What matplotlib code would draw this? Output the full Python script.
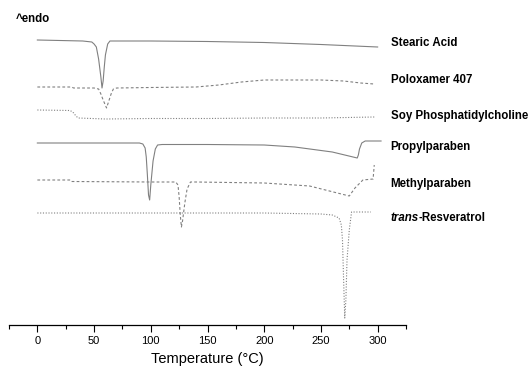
import matplotlib
matplotlib.use("Agg")
import matplotlib.pyplot as plt
import numpy as np

plt.rcParams['font.family'] = ['Liberation Sans', 'DejaVu Sans']

# DSC curves, temperature (C) vs stacked heat flow (arbitrary, endo up)
stearic_T = [0, 20, 40, 48, 50, 52, 54, 56, 57, 58, 59, 60, 62, 64, 70, 100, 150, 200, 250, 300]
stearic_y = [285, 284.5, 284, 283, 281, 278, 266, 248, 237, 244, 258, 270, 281, 284, 284, 284, 283.5, 282.5, 280.5, 278]

polox_T = [0, 30, 32, 50, 54, 56, 58, 61, 63, 65, 67, 70, 100, 140, 160, 180, 200, 250, 270, 285, 297]
polox_y = [238, 238, 237, 237, 236, 231, 225, 217, 224, 231, 236, 237, 237.5, 238, 240, 243, 245, 245, 244, 242, 241]

soy_T = [0, 29, 32, 34, 36, 60, 100, 150, 200, 250, 297]
soy_y = [215, 214.5, 212, 209, 207, 206, 206.5, 206.5, 207, 207, 208]

propyl_T = [0, 50, 90, 93, 95, 96, 97, 98, 99, 100, 102, 104, 106, 110, 150, 200, 227, 260, 282, 283, 284, 286, 289, 303]
propyl_y = [182, 182, 182, 181, 177, 168, 150, 130, 125, 140, 164, 176, 180, 180.5, 180.5, 180, 178, 173, 167, 170, 176, 182, 184, 184]

methyl_T = [0, 29, 30, 100, 122, 124, 125, 126, 127, 128, 130, 132, 135, 140, 200, 240, 275, 280, 287, 296, 297]
methyl_y = [145, 145, 143.5, 143, 143, 140, 128, 110, 98, 104, 122, 136, 143, 143, 142, 139, 129, 137, 145, 146, 160]

resv_T = [0, 100, 200, 250, 260, 266, 268, 269, 270, 271, 272, 273, 275, 277, 290, 294]
resv_y = [112, 112, 112, 111, 110, 107, 100, 85, 45, 7, 25, 65, 95, 113, 113, 113]

labels = ["Stearic Acid", "Poloxamer 407", "Soy Phosphatidylcholine",
          "Propylparaben", "Methylparaben"]
label_y = [282, 245, 209, 178, 141]
resv_label_y = 107

fig = plt.figure(figsize=(5.28, 3.71), dpi=100)
ax = fig.add_axes([9/528, 46/371, 397/528, 320/371])

col = '#808080'
ax.plot(stearic_T, stearic_y, color=col, lw=0.8, ls='-')
ax.plot(polox_T, polox_y, color=col, lw=0.8, ls=(0, (2.5, 2)))
ax.plot(soy_T, soy_y, color=col, lw=0.8, ls=(0, (1, 1.5)))
ax.plot(propyl_T, propyl_y, color=col, lw=0.8, ls='-')
ax.plot(methyl_T, methyl_y, color=col, lw=0.8, ls=(0, (2.5, 2)))
ax.plot(resv_T, resv_y, color=col, lw=0.8, ls=(0, (1, 1.5)))

ax.set_xlim(-25, 325)
ax.set_ylim(0, 320)

for lab, yy in zip(labels, label_y):
    ax.text(311.5, yy, lab, fontsize=8.3, fontweight='bold', va='center', ha='left', clip_on=False)
t1 = ax.text(311.5, resv_label_y, "trans", fontsize=8.3, fontweight='bold', style='italic',
             va='center', ha='left', clip_on=False)
ax.annotate("-Resveratrol", xy=(1, 0.5), xycoords=t1, fontsize=8.3, fontweight='bold',
            va='center', ha='left', annotation_clip=False)

ax.text(-19.4, 306, "^endo", fontsize=8.3, fontweight='bold', va='center', ha='left')

for s in ['left', 'right', 'top']:
    ax.spines[s].set_visible(False)
ax.spines['bottom'].set_linewidth(0.9)
ax.set_yticks([])
ax.set_xticks(np.arange(0, 301, 50))
ax.set_xticks(np.arange(-25, 326, 50), minor=True)
ax.tick_params(axis='x', which='major', direction='out', length=5, width=0.8, labelsize=8, pad=3)
ax.tick_params(axis='x', which='minor', direction='out', length=3, width=0.8)
ax.set_xlabel("Temperature (°C)", fontsize=10.5, labelpad=4)

fig.savefig("out.png", dpi=100)
